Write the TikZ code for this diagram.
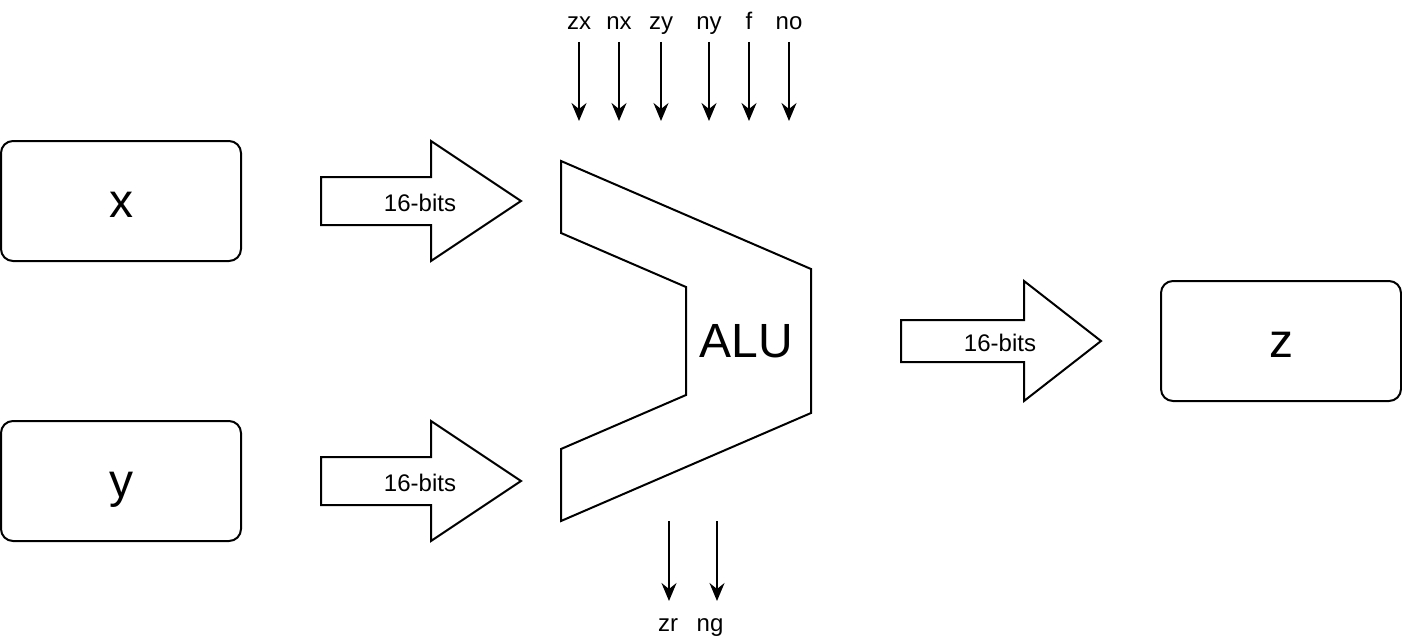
\documentclass[tikz,border=0pt]{standalone}
\usepackage{fontspec}
\setmainfont{Liberation Sans}
\usetikzlibrary{arrows.meta,positioning}
\def \tu {1pt}

\begin{document}
\begin{tikzpicture}[x=\tu,y=-\tu,line width=2*\tu,node distance=80*\tu,
    reg/.style={draw,rounded corners=12*\tu,minimum width=240*\tu,minimum height=120*\tu,inner sep=0pt,text height=44*\tu,text depth=11*\tu,font=\fontsize{48}{56}\selectfont},
    big/.style={inner sep=0pt,font=\fontsize{48}{56}\selectfont},
    bits/.style={inner sep=0pt,text height=20*\tu,text depth=0pt,font=\fontsize{24}{28}\selectfont},
    lbl/.style={inner xsep=0pt,inner ysep=6*\tu,text height=17*\tu,text depth=5*\tu,font=\fontsize{24}{28}\selectfont},
    sig/.style={-{Stealth[length=18*\tu,width=15*\tu,inset=6*\tu]}}]
    \useasboundingbox (0,0) rectangle (1402,642);
    % registers
    \node[reg] (x) at (121,201) {x};
    \node[reg] (y) at (121,481) {y};
    \node[reg] (z) at (1281,341) {z};
    % buses
    \draw (321,177) -- (431,177) -- (431,141) -- (521,201) -- (431,261) -- (431,225) -- (321,225) -- cycle;
    \node[bits] (xbus) at (420,201) {16-bits};
    \draw (321,457) -- (431,457) -- (431,421) -- (521,481) -- (431,541) -- (431,505) -- (321,505) -- cycle;
    \node[bits] (ybus) at (420,481) {16-bits};
    \draw (901,320) -- (1024,320) -- (1024,281) -- (1101,341) -- (1024,401) -- (1024,362) -- (901,362) -- cycle;
    \node[bits] (zbus) at (1000,341) {16-bits};
    % alu
    \draw (561,161) -- (811,269) -- (811,413) -- (561,521) -- (561,449) -- (686,395) -- (686,287) -- (561,233) -- cycle;
    \node[big] (alu) at (746,341) {ALU};
    % control bits
    \foreach \n/\px in {zx/579,nx/619,zy/661,ny/709,f/749,no/789} {
        \node[lbl,anchor=south] (\n) at (\px,42) {\n};
        \coordinate[below=79*\tu of \n] (\n-in);
        \draw[sig] (\n) -- (\n-in);
    }
    % status bits
    \foreach \n/\px/\lx in {zr/669/668,ng/717/710} {
        \node[lbl,anchor=north] (\n) at (\lx,607) {\n};
        \coordinate (\n-out) at (\px,521);
        \draw[sig,shorten >=6*\tu] (\n-out) -- (\n.north -| \n-out);
    }
\end{tikzpicture}
\end{document}
